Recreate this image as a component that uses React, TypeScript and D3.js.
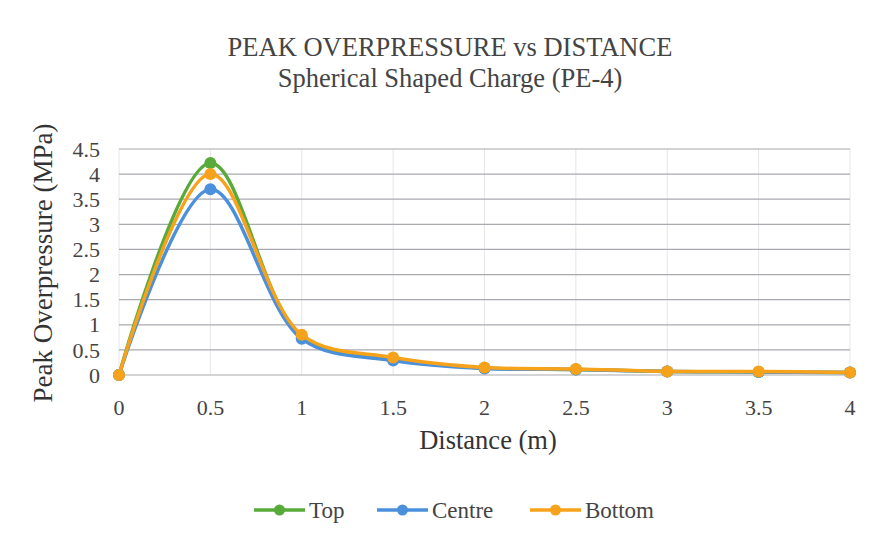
import React, { useEffect, useRef } from 'react';
import * as d3 from 'd3';

const distance = [0, 0.5, 1, 1.5, 2, 2.5, 3, 3.5, 4];
const topValues = [0, 4.22, 0.75, 0.32, 0.14, 0.11, 0.07, 0.06, 0.05];
const centreValues = [0, 3.7, 0.72, 0.29, 0.13, 0.11, 0.07, 0.06, 0.05];
const bottomValues = [0, 4.0, 0.8, 0.35, 0.15, 0.12, 0.07, 0.07, 0.05];
const yTicks = [0, 0.5, 1, 1.5, 2, 2.5, 3, 3.5, 4, 4.5];
const seriesNames = ['Top', 'Centre', 'Bottom'];
const seriesColors = ['#58aa3a', '#4a90dc', '#f7a21b'];

const FONT = 'Liberation Serif';

const App = () => {
  const svgRef = useRef<SVGSVGElement>(null);

  useEffect(() => {
    const W = 877;
    const H = 543;
    const margin = { top: 149, right: 27, bottom: 168, left: 119 };
    const width = W - margin.left - margin.right;
    const height = H - margin.top - margin.bottom;

    const root = d3.select(svgRef.current);
    root.selectAll('*').remove();
    root.attr('width', W).attr('height', H);

    root.append('rect').attr('width', W).attr('height', H).attr('fill', '#ffffff');

    const svg = root.append('g').attr('transform', `translate(${margin.left},${margin.top})`);

    const x = d3.scaleLinear().domain([0, 4]).range([0, width]);
    const y = d3.scaleLinear().domain([0, 4.5]).range([height, 0]);

    // vertical grid
    svg.append('g')
      .selectAll('line')
      .data(distance)
      .enter().append('line')
      .attr('x1', d => x(d)).attr('x2', d => x(d))
      .attr('y1', 0).attr('y2', height)
      .attr('stroke', '#e6e6e6')
      .attr('stroke-width', 1);

    // horizontal grid
    svg.append('g')
      .selectAll('line')
      .data(yTicks)
      .enter().append('line')
      .attr('x1', 0).attr('x2', width)
      .attr('y1', d => y(d)).attr('y2', d => y(d))
      .attr('stroke', '#a9a9b0')
      .attr('stroke-width', 1.2);

    // y tick labels
    svg.append('g')
      .selectAll('text')
      .data(yTicks)
      .enter().append('text')
      .attr('x', -19)
      .attr('y', d => y(d))
      .attr('dy', '0.35em')
      .attr('text-anchor', 'end')
      .attr('font-family', FONT)
      .attr('font-size', 22)
      .attr('fill', '#444')
      .text(d => String(d));

    // x tick labels
    svg.append('g')
      .selectAll('text')
      .data(distance)
      .enter().append('text')
      .attr('x', d => x(d))
      .attr('y', height + 40)
      .attr('text-anchor', 'middle')
      .attr('font-family', FONT)
      .attr('font-size', 22)
      .attr('fill', '#444')
      .text(d => String(d));

    const allSeries = [topValues, centreValues, bottomValues];

    const line = d3.line<number>()
      .x((d, i) => x(distance[i]))
      .y(d => y(d))
      .curve(d3.curveCatmullRom.alpha(0.5));

    allSeries.forEach((vals, si) => {
      svg.append('path')
        .datum(vals)
        .attr('fill', 'none')
        .attr('stroke', seriesColors[si])
        .attr('stroke-width', 3.5)
        .attr('stroke-linejoin', 'round')
        .attr('d', line);

      svg.append('g')
        .selectAll('circle')
        .data(vals)
        .enter().append('circle')
        .attr('cx', (d, i) => x(distance[i]))
        .attr('cy', d => y(d))
        .attr('r', 6)
        .attr('fill', seriesColors[si]);
    });

    // titles
    root.append('text')
      .attr('x', 450).attr('y', 56)
      .attr('text-anchor', 'middle')
      .attr('font-family', FONT)
      .attr('font-size', 26.5)
      .attr('fill', '#444')
      .text('PEAK OVERPRESSURE vs DISTANCE');

    root.append('text')
      .attr('x', 450).attr('y', 87)
      .attr('text-anchor', 'middle')
      .attr('font-family', FONT)
      .attr('font-size', 26.5)
      .attr('fill', '#444')
      .text('Spherical Shaped Charge (PE-4)');

    // axis titles
    root.append('text')
      .attr('x', 488).attr('y', 449)
      .attr('text-anchor', 'middle')
      .attr('font-family', FONT)
      .attr('font-size', 26.5)
      .attr('fill', '#333')
      .text('Distance (m)');

    root.append('text')
      .attr('transform', `translate(52, 263) rotate(-90)`)
      .attr('text-anchor', 'middle')
      .attr('font-family', FONT)
      .attr('font-size', 27)
      .attr('fill', '#333')
      .text('Peak Overpressure (MPa)');

    // legend
    const legendX = [254, 377, 530];
    const legend = root.append('g');
    seriesNames.forEach((name, i) => {
      const g = legend.append('g').attr('transform', `translate(${legendX[i]}, 510)`);
      g.append('line')
        .attr('x1', 0).attr('x2', 51)
        .attr('y1', 0).attr('y2', 0)
        .attr('stroke', seriesColors[i])
        .attr('stroke-width', 3.5);
      g.append('circle')
        .attr('cx', 25.5).attr('cy', 0).attr('r', 5.5)
        .attr('fill', seriesColors[i]);
      g.append('text')
        .attr('x', 55).attr('y', 0)
        .attr('dy', '0.35em')
        .attr('font-family', FONT)
        .attr('font-size', 23)
        .attr('fill', '#444')
        .text(name);
    });
  }, []);

  return (
    <div style={{ margin: -8 }}>
      <svg ref={svgRef} style={{ display: 'block' }}></svg>
    </div>
  );
};

export default App;
